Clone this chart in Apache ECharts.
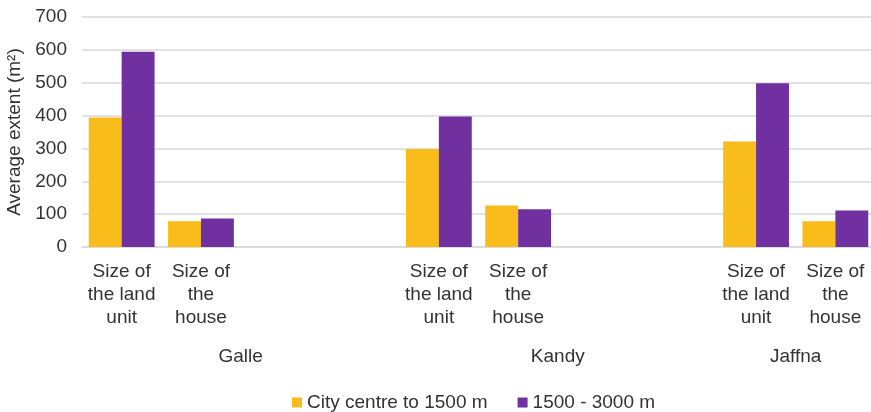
<!DOCTYPE html>
<html>
<head>
<meta charset="utf-8">
<script src="https://cdn.jsdelivr.net/npm/echarts@6/dist/echarts.min.js"></script>
<style>html,body{margin:0;padding:0;background:#fff}#c{width:871px;height:412px}</style>
</head>
<body>
<div id="c"></div>
<script>
// Sub-category labels per slot (empty slots separate the city groups)
const categories = [
  'Size of\nthe land\nunit', 'Size of\nthe\nhouse', '', '',
  'Size of\nthe land\nunit', 'Size of\nthe\nhouse', '', '',
  'Size of\nthe land\nunit', 'Size of\nthe\nhouse'
];
// City group labels and the slot-boundary position where each is centred
const groupNames = ['Galle', 'Kandy', 'Jaffna'];
const groupCenters = [2, 6, 9];
const seriesNames = ['City centre to 1500 m', '1500 - 3000 m'];
const cityCentre = [394, 78, null, null, 298, 126, null, null, 321, 78];
const outer = [594, 87, null, null, 397, 115, null, null, 498, 111];
const yTicks = [0, 100, 200, 300, 400, 500, 600, 700];

const FONT = '"Liberation Sans", Arial, sans-serif';
const TXT = '#333333';
const chart = echarts.init(document.getElementById('c'));
chart.setOption({
  animation: false,
  backgroundColor: '#ffffff',
  textStyle: { fontFamily: FONT },
  grid: { left: 82, top: 17, width: 793, height: 230, containLabel: false, outerBoundsMode: 'none' },
  legend: {
    left: 287, top: 388, itemWidth: 10, itemHeight: 10, itemGap: 30, icon: 'rect',
    data: seriesNames,
    textStyle: { fontSize: 19, color: TXT, fontFamily: FONT }
  },
  xAxis: [
    {
      type: 'category', data: categories, position: 'bottom',
      axisLine: { lineStyle: { color: '#D9D9D9', width: 1.5 } },
      axisTick: { show: false },
      axisLabel: { interval: 0, margin: 13, fontSize: 19, lineHeight: 23, color: TXT, fontFamily: FONT, align: 'center' }
    },
    {
      type: 'value', min: 0, max: 10, interval: 1, position: 'bottom',
      axisLine: { show: false }, axisTick: { show: false }, splitLine: { show: false },
      axisLabel: {
        margin: 100, fontSize: 19, color: TXT, fontFamily: FONT,
        formatter: function (v) { const i = groupCenters.indexOf(v); return i >= 0 ? groupNames[i] : ''; }
      }
    }
  ],
  yAxis: {
    type: 'value', min: yTicks[0], max: yTicks[yTicks.length - 1], interval: 100,
    name: 'Average extent (m²)', nameLocation: 'middle', nameGap: 50,
    nameTextStyle: { fontSize: 19, color: TXT, fontFamily: FONT },
    axisLine: { show: false }, axisTick: { show: false },
    axisLabel: { margin: 15, fontSize: 19, color: TXT, fontFamily: FONT },
    splitLine: { lineStyle: { color: '#D9D9D9', width: 1.5 } }
  },
  series: [
    { name: seriesNames[0], type: 'bar', data: cityCentre, itemStyle: { color: '#F9BD1B' }, barGap: '0%', barCategoryGap: '17%' },
    { name: seriesNames[1], type: 'bar', data: outer, itemStyle: { color: '#7030A0' }, barGap: '0%', barCategoryGap: '17%' }
  ]
});
</script>
</body>
</html>
